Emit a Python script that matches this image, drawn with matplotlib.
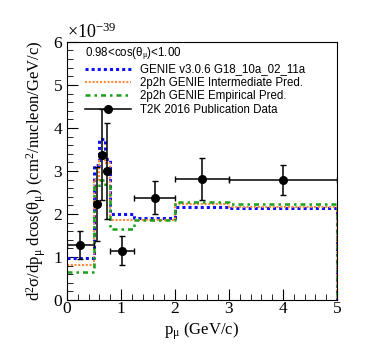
import matplotlib
matplotlib.use("Agg")
import matplotlib.pyplot as plt
import numpy as np
from matplotlib.lines import Line2D
from matplotlib.ticker import AutoMinorLocator, MultipleLocator

plt.rcParams["font.family"] = ["Liberation Serif", "DejaVu Serif"]
plt.rcParams["mathtext.fontset"] = "custom"
plt.rcParams["mathtext.rm"] = "Liberation Serif"
plt.rcParams["mathtext.it"] = "Liberation Serif:italic"

# momentum bin edges (GeV/c)
edges = [0, 0.5, 0.6, 0.7, 0.8, 1.25, 2.0, 3.0, 5.0]
genie = [0.97, 3.13, 3.75, 3.27, 1.99, 1.90, 2.16, 2.13]
inter = [0.82, 2.78, 3.30, 3.18, 1.85, 1.87, 2.22, 2.17]
empir = [0.66, 2.62, 2.78, 2.65, 1.66, 1.87, 2.27, 2.22]

# T2K 2016 data points
t2k_x = [0.25, 0.55, 0.65, 0.75, 1.025, 1.625, 2.5, 4.0]
t2k_xerr = [0.25, 0.05, 0.05, 0.05, 0.225, 0.375, 0.5, 1.0]
t2k_y = [1.28, 2.23, 3.38, 3.00, 1.15, 2.38, 2.81, 2.79]
t2k_yerr = [0.33, 0.87, 1.05, 1.12, 0.34, 0.39, 0.48, 0.35]

fig = plt.figure(figsize=(3.74, 3.55), dpi=100)
ax = fig.add_axes([0.179, 0.155, 0.722, 0.727])


def hist_line(vals, **kw):
    xs = np.repeat(edges, 2)[1:-1]
    ys = np.repeat(vals, 2)
    xs = np.append(xs, edges[-1])
    ys = np.append(ys, 0)
    return ax.plot(xs, ys, **kw)[0]


h1 = hist_line(genie, color="#1010ff", lw=2.2, ls=(0, (1, 1)))
h2 = hist_line(inter, color="#ff8a3a", lw=1.5, ls=(0, (1, 0.8)))
h3 = hist_line(empir, color="#18a018", lw=1.8, ls=(0, (2, 1.6, 1, 1.6)))

ax.errorbar(t2k_x, t2k_y, xerr=t2k_xerr, yerr=t2k_yerr, fmt="o",
            color="black", ms=5.5, elinewidth=1.1, capsize=2)
h4 = Line2D([], [], color="black", lw=1.1, marker="o", ms=5.5)

ax.set_xlim(0, 5)
ax.set_ylim(0, 6)
ax.xaxis.set_major_locator(MultipleLocator(1))
ax.yaxis.set_major_locator(MultipleLocator(1))
ax.xaxis.set_minor_locator(AutoMinorLocator(5))
ax.yaxis.set_minor_locator(AutoMinorLocator(5))
ax.tick_params(which="both", direction="in", labelsize=12.5)
ax.tick_params(which="major", length=8)
ax.tick_params(which="minor", length=4)
ax.tick_params(axis="x", pad=1)

ax.set_xlabel("p$_{\\mathrm{μ}}$ (GeV/c)", fontsize=12, labelpad=2)
ax.set_ylabel("d$^{2}$σ/dp$_{\\mathrm{μ}}$ dcos(θ$_{\\mathrm{μ}}$) (cm$^{2}$/nucleon/GeV/c)",
              fontsize=12, labelpad=4)
ax.text(0.0, 1.0, "×10$^{-39}$", transform=ax.transAxes, fontsize=13,
        ha="left", va="bottom")

leg = ax.legend([h1, h2, h3, h4],
                ["GENIE v3.0.6 G18_10a_02_11a", "2p2h GENIE Intermediate Pred.",
                 "2p2h GENIE Empirical Pred.", "T2K 2016 Publication Data"],
                title="0.98<cos(θ$_{\\mathrm{μ}}$)<1.00", loc="upper left",
                bbox_to_anchor=(0.04, 1.013), frameon=False,
                prop={"family": "Liberation Sans", "size": 8.3},
                handlelength=4.0, handletextpad=0.8, labelspacing=0.12,
                borderaxespad=0.2, alignment="left")
leg.get_title().set_fontfamily("Liberation Sans")
leg.get_title().set_fontsize(8.3)

fig.savefig("out.png", dpi=100)
